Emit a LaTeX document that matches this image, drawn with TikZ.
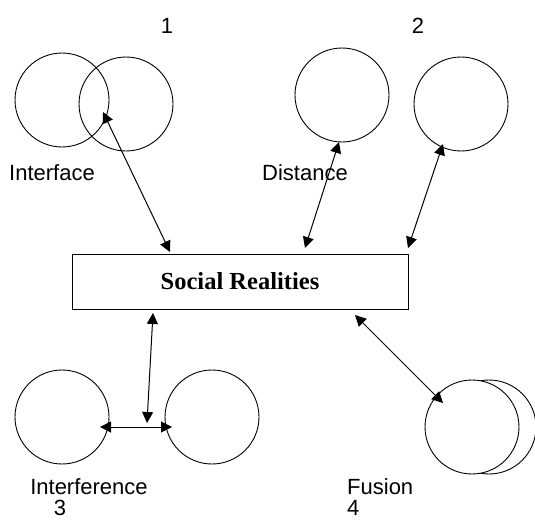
\documentclass[tikz,border=0pt]{standalone}
\usepackage{fontspec}
\setmainfont{Liberation Sans}
\newfontfamily\serifbold{Liberation Serif}
\usetikzlibrary{arrows.meta}
\begin{document}
\begin{tikzpicture}[x=1pt,y=-1pt,
  ring/.style={circle,draw,line width=0.9pt,minimum size=94pt,inner sep=0pt},
  lab/.style={font=\fontsize{22}{24}\selectfont,inner sep=0pt},
  link/.style={line width=1pt,{Triangle[length=11pt,width=11pt]}-{Triangle[length=11pt,width=11pt]}}]
\useasboundingbox (0,0) rectangle (535,519);
% box
\node[draw,line width=0.9pt,minimum width=336pt,minimum height=55pt,inner sep=0pt,
  font=\serifbold\bfseries\fontsize{24.5}{26}\selectfont] (sr) at (240,281.5) {Social Realities};
% circles
\node[ring] (a) at (62,100) {};
\node[ring] (b) at (126,104) {};
\node[ring] (c) at (342,95) {};
\node[ring] (d) at (461,104) {};
\node[ring] (e) at (62,417) {};
\node[ring] (f) at (212,417) {};
\node[ring] (h) at (489,427) {};
\node[ring,fill=white] (g) at (472,427) {};
% labels
\node[lab] (n1) at (167,26) {1};
\node[lab] (n2) at (418,26) {2};
\node[lab] (tint) at (52,173) {Interface};
\node[lab] (tdis) at (305,173) {Distance};
\node[lab] (tinf) at (89,487) {Interference};
\node[lab] (n3) at (60,508) {3};
\node[lab,anchor=west] (tfus) at (347,487) {Fusion};
\node[lab,anchor=west] (n4) at (347,508) {4};
% arrow end points
\coordinate (pa) at (103,112);
\coordinate (pa2) at (170,252);
\coordinate (pc) at (339,142);
\coordinate (pc2) at (305,248);
\coordinate (pd) at (443,144);
\coordinate (pd2) at (408,248);
\coordinate (pv1) at (153,313);
\coordinate (pv2) at (147,423);
\coordinate (pe) at (100,427);
\coordinate (pf) at (172,427);
\coordinate (pg1) at (355,315);
\coordinate (pg2) at (443,403);
% arrows
\draw[link] (pa) -- (pa2);
\draw[link] (pc) -- (pc2);
\draw[link] (pd) -- (pd2);
\draw[link] (pv1) -- (pv2);
\draw[link] (pe) -- (pf);
\draw[link] (pg1) -- (pg2);
\end{tikzpicture}
\end{document}
